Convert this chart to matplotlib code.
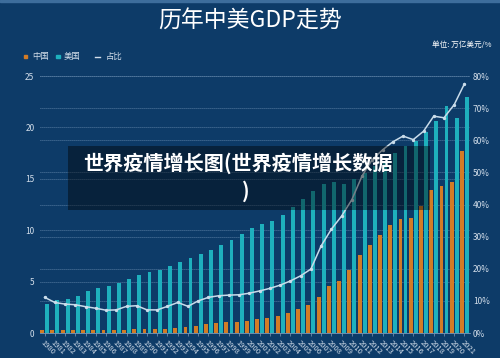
import matplotlib
matplotlib.use("Agg")
import matplotlib.pyplot as plt
from matplotlib.patches import Rectangle
from matplotlib.lines import Line2D
import numpy as np

plt.rcParams["font.family"] = ["Noto Sans CJK SC", "DejaVu Sans"]

# data (trillion USD / percent)
years = list(range(1980, 2022))
china = [0.31, 0.29, 0.28, 0.30, 0.31, 0.31, 0.30, 0.27, 0.31, 0.35,
         0.36, 0.38, 0.43, 0.44, 0.56, 0.73, 0.86, 0.96, 1.03, 1.09,
         1.21, 1.34, 1.47, 1.66, 1.96, 2.29, 2.75, 3.55, 4.59, 5.10,
         6.09, 7.55, 8.53, 9.57, 10.48, 11.06, 11.23, 12.31, 13.89, 14.28,
         14.69, 17.73]
usa = [2.86, 3.21, 3.34, 3.63, 4.04, 4.34, 4.58, 4.86, 5.24, 5.64,
       5.96, 6.16, 6.52, 6.86, 7.29, 7.64, 8.07, 8.58, 9.06, 9.63,
       10.25, 10.58, 10.94, 11.46, 12.21, 13.04, 13.81, 14.45, 14.71, 14.45,
       14.99, 15.54, 16.20, 16.78, 17.52, 18.22, 18.71, 19.52, 20.58, 22.10,
       20.94, 22.99]
share = [11.1, 9.5, 9.0, 8.8, 8.2, 7.7, 7.1, 7.2, 8.3, 8.5,
         7.2, 7.2, 8.3, 9.5, 8.3, 10.0, 11.1, 11.6, 11.8, 11.9,
         12.4, 13.1, 13.9, 14.9, 16.2, 17.8, 19.9, 27.1, 32.3, 36.4,
         41.5, 48.9, 54.0, 57.0, 59.5, 61.3, 60.2, 62.8, 67.5, 67.0,
         71.1, 77.6]
left_ticks = [0, 5, 10, 15, 20, 25]
right_ticks = [0, 10, 20, 30, 40, 50, 60, 70, 80]

BG = "#0d3b68"
C_CN = "#d27c26"
C_US = "#1eb0bd"
C_LINE = "#c9dcea"
C_TXT = "#d3deea"
C_GRID = "#6f92b5"

fig = plt.figure(figsize=(5, 3.58), dpi=100, facecolor=BG)
ax = fig.add_axes([0.08, 0.0698, 0.86, 0.7179])
ax.set_facecolor(BG)
ax2 = ax.twinx()

x = np.arange(len(years))
ax.bar(x - 0.245, china, width=0.38, color=C_CN, zorder=3)
ax.bar(x + 0.245, usa, width=0.38, color=C_US, zorder=3)

ax.set_xlim(-0.45, len(years) - 0.46)
ax.set_ylim(0, 25)
ax2.set_ylim(0, 80)

# dotted grid for both scales
for t in left_ticks[1:]:
    ax.axhline(t, color=C_GRID, lw=0.6, ls=(0, (1, 1.4)), zorder=1)
for t in right_ticks[1:]:
    ax.axhline(t * 25 / 80, color=C_GRID, lw=0.6, ls=(0, (1, 1.4)), zorder=1)

ax2.plot(x, share, color=C_LINE, lw=1.1, marker="o", markersize=1.4, zorder=4)

ax.set_yticks(left_ticks)
ax.set_yticklabels([str(t) for t in left_ticks])
ax2.set_yticks(right_ticks)
ax2.set_yticklabels([f"{t}%" for t in right_ticks])
ax.set_xticks(x)
ax.set_xticklabels([str(y) for y in years], rotation=-45, ha="left", va="top",
                   rotation_mode="anchor", fontsize=5.4, color=C_TXT)

ax.tick_params(axis="y", length=0, pad=4, labelsize=6, labelcolor=C_TXT)
ax2.tick_params(axis="y", length=0, pad=2, labelsize=6, labelcolor=C_TXT)
ax.tick_params(axis="x", length=2, width=0.5, color="#7d9bbb", pad=2)

for a in (ax, ax2):
    for s in ["top", "left", "right", "bottom"]:
        a.spines[s].set_visible(False)
ax.spines["bottom"].set_visible(True)
ax.spines["bottom"].set_color("#7d9bbb")
ax.spines["bottom"].set_linewidth(0.6)

# top strip
fig.add_artist(Rectangle((0, 0.994), 1, 0.006, transform=fig.transFigure,
                         color="#3d6d9c", zorder=5))

# title and unit
fig.text(0.5, 0.941, "历年中美GDP走势", ha="center", va="center",
         fontsize=16.5, color="white")
fig.text(0.982, 0.874, "单位: 万亿美元/%", ha="right", va="center",
         fontsize=5.5, color="white")

# legend
ly = 0.8416
fig.add_artist(Rectangle((23.5 / 500, ly - 0.005), 3.5 / 500, 3.5 / 358,
                         transform=fig.transFigure, color=C_CN))
fig.text(32 / 500, ly, "中国", ha="left", va="center", fontsize=6, color=C_TXT)
fig.add_artist(Rectangle((56 / 500, ly - 0.005), 3.5 / 500, 3.5 / 358,
                         transform=fig.transFigure, color=C_US))
fig.text(64 / 500, ly, "美国", ha="left", va="center", fontsize=6, color=C_TXT)
fig.add_artist(Line2D([95 / 500, 100 / 500], [ly, ly], transform=fig.transFigure,
                      color=C_TXT, lw=1.0))
fig.text(106 / 500, ly, "占比", ha="left", va="center", fontsize=6, color=C_TXT)

# overlay caption box
fig.add_artist(Rectangle((68 / 500, 1 - 210 / 358), 362 / 500, 64 / 358,
                         transform=fig.transFigure, color="black", alpha=0.42,
                         lw=0, zorder=10))
fig.text(237.5 / 500, 1 - 163 / 358, "世界疫情增长图(世界疫情增长数据",
         ha="center", va="center", fontsize=14.5, fontweight="bold",
         color="white", zorder=11)
fig.text(246 / 500, 1 - 191 / 358, ")", ha="center", va="center",
         fontsize=14.5, fontweight="bold", color="white", zorder=11)

fig.savefig("out.png", dpi=100, facecolor=BG)
